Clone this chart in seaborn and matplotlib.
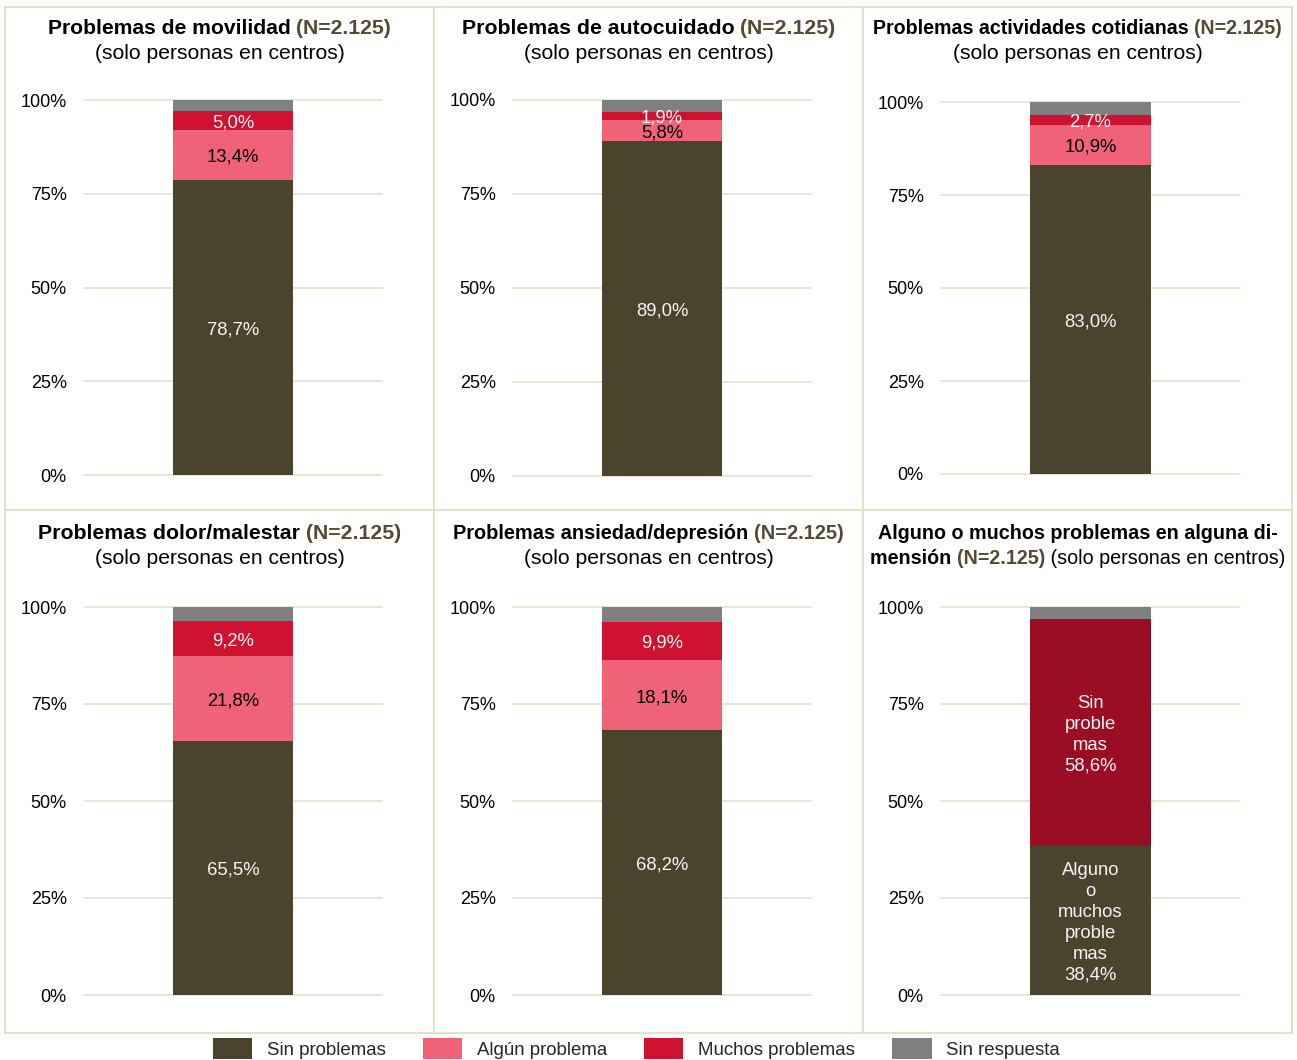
import numpy as np
import pandas as pd
import matplotlib
matplotlib.use("Agg")
import matplotlib.pyplot as plt
import matplotlib.transforms as mtransforms
import seaborn as sns
from matplotlib.patches import Patch
from matplotlib.lines import Line2D

sns.set_theme(style="white")
plt.rcParams['font.family'] = ['Liberation Sans', 'DejaVu Sans']

# ---------------- data ----------------
categories = ["Sin problemas", "Algún problema", "Muchos problemas", "Sin respuesta"]
panel_names = ["Problemas de movilidad", "Problemas de autocuidado",
               "Problemas actividades cotidianas", "Problemas dolor/malestar",
               "Problemas ansiedad/depresión"]
n_label = "(N=2.125)"
subtitle = "(solo personas en centros)"
sin_problemas = [78.7, 89.0, 83.0, 65.5, 68.2]
algun_problema = [13.4, 5.8, 10.9, 21.8, 18.1]
muchos_problemas = [5.0, 1.9, 2.7, 9.2, 9.9]
sin_respuesta = [2.9, 3.3, 3.4, 3.5, 3.8]

p6_categories = ["Alguno o muchos problemas", "Sin problemas", "Sin respuesta"]
p6_values = [38.4, 58.6, 3.0]
p6_text = ["Alguno\no\nmuchos\nproble\nmas", "Sin\nproble\nmas", ""]

yticks = [0, 25, 50, 75, 100]
ytick_labels = ["0%", "25%", "50%", "75%", "100%"]

# ---------------- style ----------------
OLIVE = "#4a442d"
PINK = "#f06277"
RED = "#cf1230"
GRAY = "#808080"
DARKRED = "#9b0d22"
NCOLOR = "#544b30"
BORDER = "#dcd8bc"
GRID = "#e8e4d2"
LIGHT = "#f4f4f4"
colors4 = [OLIVE, PINK, RED, GRAY]
txtcol4 = [LIGHT, "black", LIGHT, None]
colors3 = [OLIVE, DARKRED, GRAY]
txtcol3 = [LIGHT, LIGHT, None]
title_sizes = [15.2, 15.3, 14.1, 15.3, 14.4]

W, H = 1297, 1060
fig = plt.figure(figsize=(W / 100, H / 100), dpi=100)
fig.patch.set_facecolor("white")


def add_ax(l, r, t, b):
    return fig.add_axes([l / W, 1 - b / H, (r - l) / W, (b - t) / H])


boxes = [(84, 382, 100, 475), (513, 811, 100, 476), (941, 1240, 102, 474),
         (84, 382, 607, 995), (513, 811, 607, 995), (941, 1240, 607, 995)]

shift = mtransforms.ScaledTranslation(0, -2.5 / 100, fig.dpi_scale_trans)


def draw_stack(ax, values, cols, tcols, texts=None):
    values = list(values)
    cum = np.cumsum(values)
    # draw from top layer to bottom so lower layers overplot
    for i in range(len(values) - 1, -1, -1):
        df = pd.DataFrame({"cat": [""], "val": [cum[i]]})
        sns.barplot(data=df, x="cat", y="val", color=cols[i], saturation=1,
                    width=120 / 298, ax=ax, linewidth=0)
    for i, v in enumerate(values):
        if tcols[i] is None:
            continue
        lab = f"{v:.1f}%".replace(".", ",")
        if texts is not None:
            lab = texts[i] + "\n" + lab
        ax.text(0, cum[i] - v / 2, lab, ha="center", va="center",
                fontsize=13.3, color=tcols[i], linespacing=1.3,
                transform=ax.transData + shift)
    ax.set_xlim(-0.5, 0.5)
    ax.set_ylim(0, 100)
    ax.set_yticks(yticks)
    ax.set_yticklabels(ytick_labels, fontsize=13, color="black")
    ax.tick_params(axis="y", length=0, pad=12.5)
    ax.set_xticks([])
    ax.set_xlabel("")
    ax.set_ylabel("")
    for s in ax.spines.values():
        s.set_visible(False)
    ax.yaxis.grid(True, color=GRID, linewidth=1.3)
    ax.set_axisbelow(True)
    for gl in ax.get_ygridlines():
        gl.set_clip_on(False)


axes = [add_ax(*b) for b in boxes]
for k in range(5):
    vals = [sin_problemas[k], algun_problema[k], muchos_problemas[k], sin_respuesta[k]]
    draw_stack(axes[k], vals, colors4, txtcol4)
draw_stack(axes[5], p6_values, colors3, txtcol3, texts=p6_text)

# ---------------- panel borders ----------------
for x in [5, 434, 863, 1292]:
    fig.add_artist(Line2D([x / W, x / W], [1 - 7 / H, 1 - 1033 / H], color=BORDER,
                          lw=1.1, transform=fig.transFigure))
for y in [7, 510, 1033]:
    fig.add_artist(Line2D([5 / W, 1292 / W], [1 - y / H, 1 - y / H], color=BORDER,
                          lw=1.1, transform=fig.transFigure))

# ---------------- titles ----------------
renderer = fig.canvas.get_renderer()


def text_width(s, size, weight):
    t1 = fig.text(0, 0, s + "x", fontsize=size, fontweight=weight)
    t2 = fig.text(0, 0, "x", fontsize=size, fontweight=weight)
    w = t1.get_window_extent(renderer).width - t2.get_window_extent(renderer).width
    t1.remove()
    t2.remove()
    return w


def rich_line(xc, yb, pieces, size=15):
    widths = [text_width(s, size, wt) for s, c, wt in pieces]
    total = sum(widths)
    x = xc - total / 2
    for (s, c, wt), w in zip(pieces, widths):
        fig.text(x / W, 1 - yb / H, s, fontsize=size, color=c, fontweight=wt,
                 ha="left", va="baseline")
        x += w


centers = [219.5, 648.5, 1077.5]
for k in range(5):
    xc = centers[k % 3]
    yb = 34 if k < 3 else 539
    rich_line(xc, yb, [(panel_names[k] + " ", "black", "bold"), (n_label, NCOLOR, "bold")],
              size=title_sizes[k])
    rich_line(xc, yb + 25, [(subtitle, "black", "normal")], size=15.2)

rich_line(1077.5, 539, [("Alguno o muchos problemas en alguna di-", "black", "bold")], size=14.2)
rich_line(1077.5, 564, [("mensión ", "black", "bold"), (n_label, NCOLOR, "bold"),
                        (" " + subtitle, "black", "normal")], size=14.2)

# ---------------- legend ----------------
handles = [Patch(facecolor=c, edgecolor="none") for c in colors4]
fig.legend(handles, categories, loc="center", bbox_to_anchor=(0.5 - 12 / W, 1 - 1048.5 / H),
           ncol=4, frameon=False, fontsize=13.4, handlelength=2.1, handleheight=1.3,
           handletextpad=0.8, columnspacing=2.0, borderaxespad=0, borderpad=0)

fig.savefig("out.png", dpi=100, facecolor="white")
